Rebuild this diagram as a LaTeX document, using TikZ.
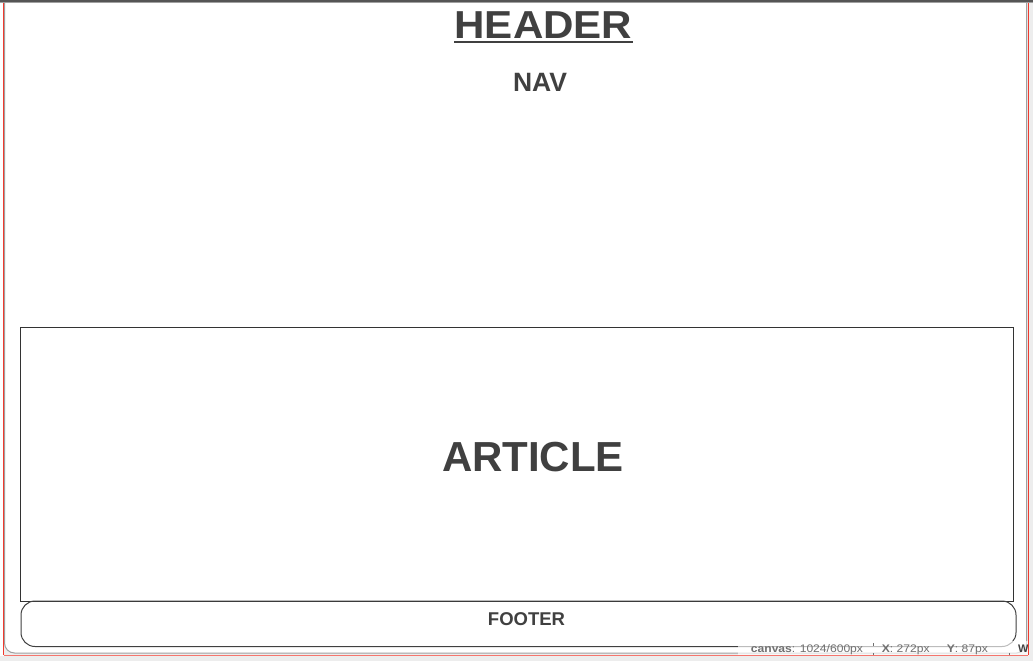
\documentclass[tikz,border=0pt]{standalone}
\usepackage{fontspec}
\usepackage{graphicx}
\setmainfont{Liberation Sans}
\definecolor{txt}{HTML}{404040}
\definecolor{boxline}{HTML}{333333}
\definecolor{bggray}{HTML}{EDEDED}
\definecolor{outline}{HTML}{A0A0A0}
\definecolor{topgray}{HTML}{555555}
\definecolor{statustxt}{HTML}{707070}
\definecolor{selred}{HTML}{F03A2E}
\tikzset{
  label text/.style={text=txt, inner sep=0pt, anchor=base},
  panel/.style={draw=boxline, line width=1pt, inner sep=0pt, anchor=north west},
  status/.style={text=statustxt, inner sep=0pt, anchor=base west, font=\fontsize{11}{13}\selectfont}
}
\begin{document}
\begin{tikzpicture}[x=1pt,y=-1pt]
\useasboundingbox (0,0) rectangle (1033,661);
% page background
\fill[bggray] (0,0) rectangle (1033,661);
\fill[white] (0,0) rectangle (3.5,656);
% outer rounded page frame
\draw[fill=white, draw=outline, line width=1pt, rounded corners=10pt] (4.5,-20) rectangle (1026.5,653);
% top bar
\fill[topgray] (0,0) rectangle (1033,1.8);
\fill[outline] (0,1.8) rectangle (1033,2.6);
% article box
\node[panel, minimum width=993pt, minimum height=274pt] (article) at (19.5,326.5) {};
% footer box
\node[panel, draw=txt, rounded corners=14pt, minimum width=995pt, minimum height=45.5pt] (footer) at (20.5,600.5) {};
% texts
\node[label text, font=\fontsize{39}{44}\selectfont\bfseries] (header) at (543.5,38.3) {\scalebox{1.08}[1]{HEADER}};
\draw[txt, line width=2.2pt] ([yshift=-4pt]header.base west) -- ([yshift=-4pt]header.base east);
\node[label text, font=\fontsize{26.5}{30}\selectfont\bfseries] (nav) at (540,91) {NAV};
\node[label text, font=\fontsize{42}{48}\selectfont\bfseries] (articletext) at (533,471) {ARTICLE};
\node[label text, font=\fontsize{18.5}{22}\selectfont\bfseries] (footertext) at (526.5,625) {FOOTER};
% status overlay
\fill[white, opacity=0.65] (738,641) rectangle (1027.5,655);
\node[status] (s1) at (750.7,652.3) {\scalebox{1.1}[1]{\textbf{canvas}: 1024/600px}};
\node[status] (s2) at (881.7,652.3) {\scalebox{1.1}[1]{\textbf{X}: 272px}};
\node[status] (s3) at (946.7,652.3) {\scalebox{1.1}[1]{\textbf{Y}: 87px}};
\begin{scope}
\clip (1010,640) rectangle (1027.8,656);
\node[status, text=txt] (s4) at (1018,652.3) {\textbf{W:}};
\end{scope}
\draw[statustxt, line width=0.8pt] (873.3,643) -- (873.3,646);
\draw[statustxt, line width=0.8pt] (873.3,653) -- (873.3,655);
\draw[statustxt, line width=0.8pt] (1009.5,653) -- (1009.5,655);
% red selection frame
\draw[selred, line width=1.2pt] (3.6,2.6) -- (3.6,655.4);
\draw[selred, line width=1.3pt] (1028.4,2.6) -- (1028.4,655.4);
\draw[selred!70, line width=0.8pt] (3.6,655.4) -- (1028.4,655.4);
\end{tikzpicture}
\end{document}
